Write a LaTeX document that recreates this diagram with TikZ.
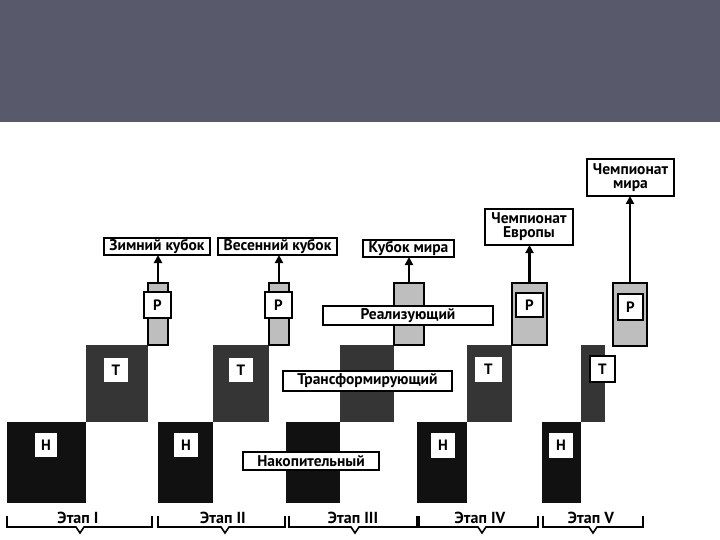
\documentclass[tikz,border=0pt]{standalone}
\usepackage{fontspec}
\setmainfont{PT Sans}
\usetikzlibrary{arrows.meta}
\definecolor{banner}{HTML}{585A6C}
\definecolor{hcol}{HTML}{111111}
\definecolor{tcol}{HTML}{353535}
\definecolor{pcol}{HTML}{BEBEBE}
\newcommand\rb[7]{\node[#1, minimum width={(#5-#3)*1pt}, minimum height={(#6-#4)*1pt}] (#2) at ({(#3+#5)/2},{(#4+#6)/2}) {#7};}
\begin{document}
\begin{tikzpicture}[x=1pt,y=-1pt,
  blk/.style={inner sep=0pt, outer sep=0pt},
  hb/.style={blk, fill=hcol},
  tb/.style={blk, fill=tcol},
  pb/.style={blk, fill=pcol, draw=black, line width=1.8pt},
  wlab/.style={blk, fill=white, font=\bfseries\fontsize{15}{16}\selectfont},
  plab/.style={blk, fill=white, draw=black, line width=1.4pt, font=\bfseries\fontsize{15}{16}\selectfont},
  lab/.style={blk, fill=white, draw=black, line width=1.5pt, align=center,
              font=\bfseries\fontsize{15.5}{15}\selectfont},
  arr/.style={line width=2.4pt, -{Triangle[length=8pt,width=8pt]}},
  brace/.style={line width=1.6pt},
  stage/.style={font=\bfseries\fontsize{16}{17}\selectfont}
]
\useasboundingbox (0,0) rectangle (720,540);
\fill[banner] (0,0) rectangle (720,122);

% ---------- Stage I ----------
\rb{hb}{h1}{7}{422}{86}{503}{}
\rb{tb}{t1}{86}{345}{148}{422}{}
\rb{pb}{p1}{148}{283}{168}{345}{}
\rb{plab}{p1l}{144}{292}{171}{318}{Р}
\rb{wlab}{h1l}{35}{433}{57}{457}{Н}
\rb{wlab}{t1l}{104}{358}{128}{382}{Т}
\rb{lab}{r1}{104}{238}{210}{255}{Зимний кубок}
\draw[arr] (p1.north) -- (p1.north |- r1.south);

% ---------- Stage II ----------
\rb{hb}{h2}{158}{422}{213}{503}{}
\rb{tb}{t2}{213}{345}{269}{422}{}
\rb{pb}{p2}{269}{283}{289}{345}{}
\rb{plab}{p2l}{265}{292}{292}{318}{Р}
\rb{wlab}{h2l}{174}{433}{198}{457}{Н}
\rb{wlab}{t2l}{229}{358}{253}{382}{Т}
\rb{lab}{r2}{218}{238}{337}{255}{Весенний кубок}
\draw[arr] (p2.north) -- (p2.north |- r2.south);

% ---------- Stage III ----------
\rb{hb}{h3}{286}{422}{340}{503}{}
\rb{tb}{t3}{340}{345}{394}{422}{}
\rb{pb}{p3}{394}{283}{424}{345}{}
\rb{lab}{n3}{243}{452}{379}{470}{Накопительный}
\rb{lab}{tr3}{283}{371}{452}{391}{Трансформирующий}
\rb{lab}{re3}{323}{306}{493}{325}{Реализующий}
\rb{lab}{r3}{363}{240}{454}{257}{Кубок мира}
\draw[arr] (p3.north) -- (p3.north |- r3.south);

% ---------- Stage IV ----------
\rb{hb}{h4}{417}{422}{467}{503}{}
\rb{tb}{t4}{467}{345}{512}{422}{}
\rb{pb}{p4}{512}{283}{547}{345}{}
\rb{plab}{p4l}{516}{293}{543}{317}{Р}
\rb{wlab}{h4l}{431}{433}{455}{458}{Н}
\rb{wlab}{t4l}{475}{357}{502}{382}{Т}
\rb{lab}{r4}{485}{209}{573}{245}{Чемпионат\\[-1pt]Европы}
\draw[arr] (p4.north) -- (p4.north |- r4.south);

% ---------- Stage V ----------
\rb{hb}{h5}{542}{422}{581}{503}{}
\rb{tb}{t5}{581}{345}{605}{422}{}
\rb{pb}{p5}{613}{283}{647}{346}{}
\rb{plab}{p5l}{618}{294}{643}{320}{Р}
\rb{wlab}{h5l}{549}{433}{573}{458}{Н}
\rb{plab}{t5l}{590}{356}{615}{382}{Т}
\rb{lab}{r5}{587}{159}{674}{196}{Чемпионат\\[-1pt]мира}
\draw[arr] (p5.north) -- (p5.north |- r5.south);

% ---------- Braces ----------
\foreach \a/\b/\c/\t in {7/152/80/I, 158/285/225/II, 289/417/355/III, 419/538/482/IV, 543/643/593/V}{
  \draw[brace] (\a,516) -- (\a,527) -- (\c-4,527) -- (\c,533) -- (\c+4,527) -- (\b,527) -- (\b,516);
  \node[stage] at (\c-2,518) {Этап \t};
}
\end{tikzpicture}
\end{document}
